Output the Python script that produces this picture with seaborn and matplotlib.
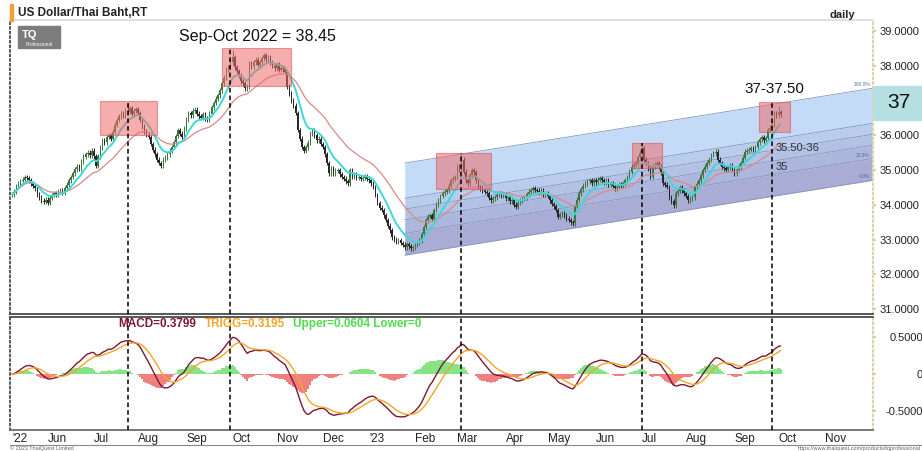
import numpy as np
import pandas as pd
import matplotlib
matplotlib.use("Agg")
import matplotlib.pyplot as plt
from matplotlib.patches import Rectangle
import seaborn as sns

# ---------------------------------------------------------------
# DATA  (daily closes, USD/THB)
# ---------------------------------------------------------------
START_DATE = "2022-05-09"

# May 2022 -> Sep 2022
CLOSE_A = [
    34.30, 34.37, 34.52, 34.60, 34.68, 34.72, 34.80, 34.77, 34.70, 34.62,
    34.55, 34.48, 34.30, 34.22, 34.12, 34.08, 34.15, 34.05, 34.20, 34.28,
    34.33, 34.30, 34.38, 34.42, 34.36, 34.48, 34.58, 34.70, 34.80, 34.90,
    35.02, 35.10, 35.05, 35.25, 35.38, 35.45, 35.50, 35.42, 35.55, 35.40,
    35.12, 35.40, 35.65, 35.86, 35.80, 35.95, 36.00, 35.90, 36.10, 36.30,
    36.44, 36.55, 36.64, 36.58, 36.70, 36.67, 36.78, 36.62, 36.70, 36.75,
    36.64, 36.45, 36.24, 36.10, 36.02, 35.95, 35.75, 35.58, 35.45, 35.30,
    35.20, 35.12, 35.30, 35.37, 35.45, 35.55, 35.66, 35.80, 35.98, 36.15,
    36.05, 35.95, 36.20, 36.45, 36.64, 36.58, 36.70, 36.73, 36.62, 36.55,
    36.50, 36.60, 36.48, 36.44, 36.62, 36.80, 36.93, 37.05, 37.15, 37.30,
]
# Sep 2022 -> Feb 2023
CLOSE_B = [
    37.50, 37.65, 37.88, 37.95, 38.10, 38.25, 37.96, 37.85, 37.73, 37.55,
    37.50, 37.35, 37.40, 38.08, 37.98, 38.10, 38.17, 38.02, 38.10, 38.22,
    38.30, 38.18, 38.25, 38.10, 38.00, 37.93, 38.05, 37.88, 37.93, 37.90,
    37.82, 37.40, 37.20, 37.00, 36.85, 36.64, 36.15, 35.90, 35.66, 35.55,
    35.65, 35.78, 36.06, 36.15, 36.00, 35.86, 35.90, 35.75, 35.66, 35.45,
    35.20, 34.91, 35.05, 34.91, 34.98, 35.00, 34.88, 34.80, 34.75, 34.68,
    34.62, 35.00, 34.80, 34.86, 34.78, 34.80, 34.74, 34.77, 34.82, 34.75,
    34.71, 34.62, 34.51, 34.28, 34.05, 33.92, 33.85, 33.70, 33.56, 33.40,
    33.27, 33.07, 33.00, 32.93, 32.98, 32.90, 32.85, 32.78, 32.86, 32.80,
    32.75, 32.78, 32.84, 32.90, 32.98, 33.15, 33.36, 33.55, 33.65, 33.70,
]
# Feb 2023 -> Jun 2023
CLOSE_C = [
    33.60, 33.85, 34.00, 34.13, 34.25, 34.33, 34.38, 34.42, 34.55, 34.71,
    34.75, 34.80, 35.09, 35.00, 35.29, 34.95, 34.71, 34.62, 34.85, 35.00,
    34.94, 34.70, 34.51, 34.48, 34.42, 34.38, 34.33, 34.20, 34.13, 34.18,
    34.22, 34.28, 34.33, 34.25, 34.30, 34.18, 34.22, 34.10, 34.13, 34.00,
    33.94, 34.05, 34.13, 34.18, 34.22, 34.30, 34.38, 34.42, 34.48, 34.42,
    34.40, 34.36, 34.42, 34.30, 34.33, 34.25, 34.13, 34.02, 33.95, 33.85,
    33.65, 33.72, 33.76, 33.68, 33.60, 33.56, 33.50, 33.47, 33.94, 34.15,
    34.33, 34.45, 34.55, 34.62, 34.68, 34.71, 34.62, 34.70, 34.65, 34.72,
    34.77, 34.71, 34.65, 34.70, 34.58, 34.62, 34.55, 34.48, 34.51, 34.58,
    34.55, 34.62, 34.70, 34.80, 34.95, 35.09, 35.15, 35.20, 35.37, 35.50,
]
# Jun 2023 -> Oct 2023
CLOSE_D = [
    35.63, 35.29, 35.20, 35.05, 34.80, 35.09, 35.15, 35.20, 35.10, 34.94,
    34.62, 34.58, 34.51, 34.22, 34.10, 33.99, 34.33, 34.40, 34.51, 34.42,
    34.33, 34.25, 34.13, 34.18, 34.22, 34.51, 34.60, 34.71, 34.85, 35.00,
    35.10, 35.20, 35.30, 35.43, 35.48, 35.52, 35.29, 35.20, 35.09, 35.05,
    35.00, 35.08, 35.14, 35.02, 34.91, 35.00, 35.09, 35.20, 35.35, 35.52,
    35.55, 35.58, 35.62, 35.60, 35.66, 35.80, 35.88, 35.95, 35.85, 35.92,
    36.15, 36.22, 36.30, 36.64, 36.58, 36.67, 36.60,
]

# notable spike highs (bar index -> high)
SPIKE_HIGHS = {55: 36.93, 105: 38.45, 214: 35.45, 300: 35.75, 365: 36.85}

# highlight boxes: (first bar, last bar, low, high)
BOXES = [
    (42, 69, 36.00, 37.00),
    (100, 133, 37.42, 38.50),
    (202, 228, 34.45, 35.48),
    (295, 309.5, 35.05, 35.77),
    (355.5, 370.5, 36.10, 36.95),
]
DASH_BARS = [55, 104, 214, 300, 362]

# fibonacci channel: start bar/low, end bar/low, height
CH_START = (187, 32.55)
CH_END = (409.5, 34.70)
CH_HEIGHT = 2.65
FIB_LEVELS = [0.0, 0.236, 0.382, 0.5, 0.618, 1.0]
FIB_LABELS = {1.0: "100.0%", 0.236: "23.6%", 0.0: "0.0%"}

PRICE_TICKS = [31, 32, 33, 34, 35, 36, 37, 38, 39]
MACD_TICKS = [0.5, 0.0, -0.5]
MACD_TICK_LABELS = ["0.5000", "0", "-0.5000"]
LAST_PRICE_LABEL = "37"

# ---------------------------------------------------------------
# STYLE
# ---------------------------------------------------------------
W, H = 922, 451
UP_COL, DOWN_COL = "#3b773b", "#262626"
WICK_PAD = 0.07
CYAN, PINK = "#3fd8d8", "#d98a8a"
MACD_COL, TRIG_COL = "#7d1830", "#f4a52a"
HIST_UP, HIST_DN = "#86e486", "#f08080"
BAND_COLS = ["#a9acd4", "#adb6dc", "#b3c1e5", "#b9cced", "#c3dbf6"]
BEIGE = "#d6cc9a"

sns.set_theme(style="white")
plt.rcParams["font.family"] = ["Liberation Sans", "DejaVu Sans"]


def fx(px):
    return px / W


def fy(py):
    return 1 - py / H


close = pd.Series(CLOSE_A + CLOSE_B + CLOSE_C + CLOSE_D)
n = len(close)
idx = np.arange(n)
dates = pd.bdate_range(START_DATE, periods=412)

opens = np.r_[close.iloc[0], close.values[:-1]]
c = close.values
body_lo = np.minimum(opens, c)
body_hi = np.maximum(opens, c)
highs = body_hi + WICK_PAD
lows = body_lo - WICK_PAD
for k, v in SPIKE_HIGHS.items():
    highs[k] = v
colors = np.where(c >= opens, UP_COL, DOWN_COL)

ema_fast = close.ewm(span=10, adjust=True).mean()
ema_slow = close.ewm(span=30, adjust=True).mean()
macd = close.ewm(span=12, adjust=False).mean() - close.ewm(span=26, adjust=False).mean()
trig = macd.ewm(span=9, adjust=False).mean()
hist = macd - trig

fig = plt.figure(figsize=(W / 100, H / 100), dpi=100)
ax = fig.add_axes([fx(10), fy(314), fx(873) - fx(10), (314 - 20) / H])
axm = fig.add_axes([fx(10), fy(430), fx(873) - fx(10), (430 - 317) / H])

XMAX = 410
P_TOP = 39 + 11 / 34.75
P_BOT = 39 - 283 / 34.75
ax.set_xlim(-1, XMAX)
ax.set_ylim(P_BOT, P_TOP)
axm.set_xlim(-1, XMAX)
axm.set_ylim(-(430 - 374) / 74, (374 - 317) / 74)

# ---- fibonacci channel
cx = np.array([CH_START[0], CH_END[0]])
cbase = np.array([CH_START[1], CH_END[1]])
for k in range(len(FIB_LEVELS) - 1):
    ax.fill_between(cx, cbase + FIB_LEVELS[k] * CH_HEIGHT,
                    cbase + FIB_LEVELS[k + 1] * CH_HEIGHT,
                    color=BAND_COLS[k], lw=0, zorder=1)
for lv in FIB_LEVELS:
    ax.plot(cx, cbase + lv * CH_HEIGHT, color="#8797bb", lw=0.6, zorder=1.5)
    if lv in FIB_LABELS:
        ax.text(CH_END[0] - 1, CH_END[1] + lv * CH_HEIGHT + 0.03, FIB_LABELS[lv],
                fontsize=3.5, color="#5a6f9c", ha="right", va="bottom", zorder=2)

# ---- candles
ax.vlines(idx, lows, highs, colors=colors, lw=0.7, zorder=3)
ax.bar(idx, np.maximum(body_hi - body_lo, 0.02), bottom=body_lo, width=0.7,
       color=colors, linewidth=0, zorder=3)

# ---- moving averages
sns.lineplot(x=idx, y=ema_slow.values, ax=ax, color=PINK, lw=0.9, zorder=4)
sns.lineplot(x=idx, y=ema_fast.values, ax=ax, color=CYAN, lw=1.4, zorder=4)

# ---- highlight boxes and dashed markers
for b0, b1, lo, hi in BOXES:
    ax.add_patch(Rectangle((b0, lo), b1 - b0, hi - lo, facecolor="#ef6a6a",
                           alpha=0.55, edgecolor="#d94f4f", lw=0.8, zorder=5))
box_tops = []
for d in DASH_BARS:
    top = [hi for b0, b1, lo, hi in BOXES if b0 <= d <= b1][0]
    box_tops.append(top)
ax.vlines(DASH_BARS, P_BOT, box_tops, colors="black", lw=1.1,
          linestyles=(0, (3, 2)), zorder=6)
for d in DASH_BARS:
    axm.axvline(d, color="black", lw=1.1, ls=(0, (3, 2)), zorder=6)

# ---- annotations
ax.text(117, 38.83, "Sep-Oct 2022 = 38.45", fontsize=11.5, ha="center",
        va="center", color="#111111", zorder=7)
ax.text(363, 37.33, "37-37.50", fontsize=11, ha="center", va="center",
        color="#111111", zorder=7)
ax.text(363.5, 35.63, "35.50-36", fontsize=8, ha="left", va="center",
        color="#333333", zorder=7)
ax.text(363.5, 35.09, "35", fontsize=8, ha="left", va="center",
        color="#333333", zorder=7)

# ---- MACD panel
hcol = np.where(hist.values >= 0, HIST_UP, HIST_DN)
axm.bar(idx, hist.values, width=1.0, color=hcol, linewidth=0, zorder=2)
sns.lineplot(x=idx, y=macd.values, ax=axm, color=MACD_COL, lw=1.0, zorder=3)
sns.lineplot(x=idx, y=trig.values, ax=axm, color=TRIG_COL, lw=1.0, zorder=3)

# ---- axes cosmetics
for a in (ax, axm):
    a.grid(False)
    a.yaxis.tick_right()
    a.spines["left"].set_linestyle(":")
    a.spines["left"].set_color("#444444")
    a.spines["right"].set_linestyle(":")
    a.spines["right"].set_color(BEIGE)
    a.set_xlabel("")
    a.set_ylabel("")
ax.spines["top"].set_color("#dddddd")
ax.spines["bottom"].set_color("#444444")
axm.spines["top"].set_color("#444444")
axm.spines["bottom"].set_color("#666666")

ax.set_xticks([])
ax.set_yticks(PRICE_TICKS)
# the last-price tag sits on top of the 37 level, so leave that label blank
ax.set_yticklabels(["" if f"{v:g}" == LAST_PRICE_LABEL else f"{v:.4f}"
                    for v in PRICE_TICKS])
ax.tick_params(axis="y", labelsize=8, pad=3, length=2, color=BEIGE,
               right=True, labelcolor="#222222")

axm.set_yticks(MACD_TICKS)
axm.set_yticklabels(MACD_TICK_LABELS)
axm.tick_params(axis="y", labelsize=8, pad=34, length=2, color=BEIGE,
                right=True, labelcolor="#222222")
for lab in axm.get_yticklabels():
    lab.set_horizontalalignment("right")

# month ticks on trading-day axis
tick_pos, tick_lab = [0], ["'22"]
for i in range(5, XMAX - 8):
    if dates[i].month != dates[i - 1].month:
        tick_pos.append(i)
        tick_lab.append("'23" if dates[i].month == 1 else dates[i].strftime("%b"))
axm.set_xticks(tick_pos)
axm.set_xticklabels(tick_lab, fontsize=8.5, color="#222222")
axm.tick_params(axis="x", length=0, pad=2)
for lab in axm.get_xticklabels():
    lab.set_horizontalalignment("left")

# ---- header / decorations
fig.patches.append(Rectangle((fx(10), fy(21)), 3 / W, 17 / H,
                             transform=fig.transFigure, color="#f0a030"))
fig.text(fx(18), fy(13), "US Dollar/Thai Baht,RT", fontsize=8.5,
         weight="bold", va="center", color="#222222")
fig.text(fx(842), fy(15), "daily", fontsize=8, weight="bold",
         ha="center", va="center", color="#222222")
fig.patches.append(Rectangle((fx(18), fy(48)), 42 / W, 22 / H,
                             transform=fig.transFigure, color="#7c7c7c"))
fig.text(fx(22), fy(35), "TQ", fontsize=8, weight="bold", color="white",
         va="center")
fig.text(fx(39), fy(44.5), "Professional", fontsize=3.5, color="white",
         ha="center", va="center")

fig.patches.append(Rectangle((fx(873), fy(120)), 49 / W, 34 / H,
                             transform=fig.transFigure, color="#b5dfe0"))
fig.text(fx(899), fy(103), LAST_PRICE_LABEL, fontsize=15, ha="center",
         va="center", color="#111111")

fig.text(fx(118), fy(324), "MACD=0.3799", fontsize=8.5, weight="bold",
         color=MACD_COL, va="center")
fig.text(fx(205), fy(324), "TRIGG=0.3195", fontsize=8.5, weight="bold",
         color=TRIG_COL, va="center")
fig.text(fx(293), fy(324), "Upper=0.0604 Lower=0", fontsize=8.5,
         weight="bold", color="#4fdc4f", va="center")

fig.add_artist(plt.Line2D([fx(10), fx(922)], [fy(445), fy(445)],
                          transform=fig.transFigure, color="#888888", lw=0.8))
fig.text(fx(10), fy(448.5), "\u00a9 2023 ThaiQuest Limited", fontsize=4,
         color="#666666", va="center")
fig.text(fx(921), fy(448.5), "https://www.thaiquest.com/products/tqprofessional",
         fontsize=4, color="#666666", va="center", ha="right")

fig.savefig("out.png", dpi=100)
